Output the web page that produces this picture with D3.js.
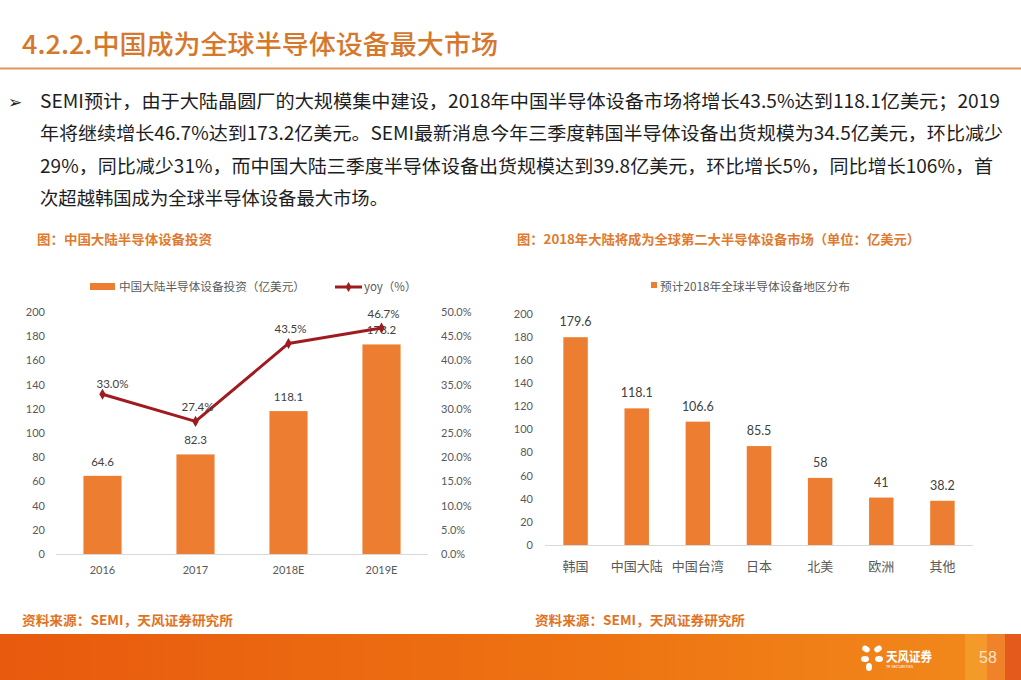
<!DOCTYPE html>
<html><head><meta charset="utf-8">
<script src="https://cdn.jsdelivr.net/npm/d3@7"></script>
<style>
html,body{margin:0;padding:0;background:#fff;}
svg{display:block;}
</style></head>
<body>
<script>
// ---------- data ----------
const pageTitle = "4.2.2.中国成为全球半导体设备最大市场";
const bodyLines = [
  "SEMI预计，由于大陆晶圆厂的大规模集中建设，2018年中国半导体设备市场将增长43.5%达到118.1亿美元；2019",
  "年将继续增长46.7%达到173.2亿美元。SEMI最新消息今年三季度韩国半导体设备出货规模为34.5亿美元，环比减少",
  "29%，同比减少31%，而中国大陆三季度半导体设备出货规模达到39.8亿美元，环比增长5%，同比增长106%，首",
  "次超越韩国成为全球半导体设备最大市场。"
];
const leftTitle = "图：中国大陆半导体设备投资";
const rightTitle = "图：2018年大陆将成为全球第二大半导体设备市场（单位：亿美元）";
const sourceText = "资料来源：SEMI，天风证券研究所";

const years = ["2016", "2017", "2018E", "2019E"];
const investment = [64.6, 82.3, 118.1, 173.2];
const yoy = [33.0, 27.4, 43.5, 46.7];
const leftTicks = [0, 20, 40, 60, 80, 100, 120, 140, 160, 180, 200];
const yoyTicks = [0, 5, 10, 15, 20, 25, 30, 35, 40, 45, 50];
const leftLegend = ["中国大陆半导体设备投资（亿美元）", "yoy（%）"];

const regions = ["韩国", "中国大陆", "中国台湾", "日本", "北美", "欧洲", "其他"];
const regionValues = [179.6, 118.1, 106.6, 85.5, 58, 41, 38.2];
const rightTicks = [0, 20, 40, 60, 80, 100, 120, 140, 160, 180, 200];
const rightLegend = "预计2018年全球半导体设备地区分布";

// ---------- styles ----------
const ORANGE = "#ED7D31";
const DARKRED = "#A01B20";
const AXISTXT = "#595959";
const CJK = "'Noto Sans CJK SC','Noto Sans',sans-serif";
const NUM = "Lato,'Open Sans',sans-serif";

const W = 1021, H = 680;
const svg = d3.select("body").append("svg").attr("width", W).attr("height", H);

// ---------- header ----------
svg.append("text").attr("x", 22).attr("y", 54)
  .attr("font-family", CJK).attr("font-weight", 500).attr("font-size", 26).attr("fill", "#D5782C")
  .attr("textLength", 476).attr("lengthAdjust", "spacingAndGlyphs")
  .text(pageTitle);
svg.append("line").attr("x1", 0).attr("x2", W).attr("y1", 68.5).attr("y2", 68.5)
  .attr("stroke", "#DE9658").attr("stroke-width", 2);

svg.append("text").attr("x", 8).attr("y", 108)
  .attr("font-family", "'DejaVu Sans',sans-serif").attr("font-size", 17).attr("fill", "#222")
  .text("➢");
const lineYs = [108, 140, 173, 205];
const lineLens = [960, 963, 953, 348];
bodyLines.forEach((t, i) => {
  svg.append("text").attr("x", 40).attr("y", lineYs[i])
    .attr("font-family", CJK).attr("font-size", 18.5).attr("fill", "#1E1E1E")
    .attr("textLength", lineLens[i]).attr("lengthAdjust", "spacingAndGlyphs")
    .text(t);
});

// chart titles
svg.append("text").attr("x", 37).attr("y", 244)
  .attr("font-family", CJK).attr("font-weight", "bold").attr("font-size", 13).attr("fill", "#E07A2E")
  .attr("textLength", 175).attr("lengthAdjust", "spacingAndGlyphs").text(leftTitle);
svg.append("text").attr("x", 517).attr("y", 244)
  .attr("font-family", CJK).attr("font-weight", "bold").attr("font-size", 13).attr("fill", "#E07A2E")
  .attr("textLength", 403).attr("lengthAdjust", "spacingAndGlyphs").text(rightTitle);

// ---------- left chart ----------
const lx = d3.scaleBand().domain(years).range([56, 428]).paddingInner(0.59).paddingOuter(0.295);
const ly = d3.scaleLinear().domain([0, 200]).range([554, 312]);
const ly2 = d3.scaleLinear().domain([0, 50]).range([554, 312]);

const L = svg.append("g");
// legend
L.append("rect").attr("x", 90).attr("y", 283).attr("width", 25).attr("height", 7).attr("fill", ORANGE);
L.append("text").attr("x", 119).attr("y", 291).attr("font-family", CJK).attr("font-size", 11.5)
  .attr("fill", AXISTXT).attr("textLength", 186).attr("lengthAdjust", "spacingAndGlyphs").text(leftLegend[0]);
L.append("line").attr("x1", 335).attr("x2", 362).attr("y1", 287).attr("y2", 287)
  .attr("stroke", DARKRED).attr("stroke-width", 3);
L.append("path").attr("d", d3.symbol(d3.symbolDiamond, 30)()).attr("transform", "translate(348.5,287)").attr("fill", DARKRED);
L.append("text").attr("x", 364).attr("y", 291).attr("font-family", CJK).attr("font-size", 11.5)
  .attr("fill", AXISTXT).text(leftLegend[1]);

// axes
const lAxisL = L.append("g").attr("transform", "translate(52,0)")
  .call(d3.axisLeft(ly).tickValues(leftTicks).tickSize(0).tickPadding(7).tickFormat(d3.format("d")));
const lAxisR = L.append("g").attr("transform", "translate(434,0)")
  .call(d3.axisRight(ly2).tickValues(yoyTicks).tickSize(0).tickPadding(7).tickFormat(d => d.toFixed(1) + "%"));
[lAxisL, lAxisR].forEach(g => {
  g.select(".domain").remove();
  g.selectAll("text").attr("font-family", NUM).attr("font-size", 11).attr("fill", AXISTXT);
});
// baseline
L.append("line").attr("x1", 56).attr("x2", 428).attr("y1", ly(0) + 0.5).attr("y2", ly(0) + 0.5)
  .attr("stroke", "#D9D9D9").attr("stroke-width", 1);
const lAxisB = L.append("g").attr("transform", `translate(0,${ly(0)})`)
  .call(d3.axisBottom(lx).tickSize(0).tickPadding(12));
lAxisB.select(".domain").remove();
lAxisB.selectAll("text").attr("font-family", NUM).attr("font-size", 11).attr("fill", AXISTXT);

// bars
L.selectAll("rect.bar").data(investment).join("rect").attr("class", "bar")
  .attr("x", (d, i) => lx(years[i])).attr("width", lx.bandwidth())
  .attr("y", d => ly(d)).attr("height", d => ly(0) - ly(d)).attr("fill", ORANGE);
L.selectAll("text.bv").data(investment).join("text").attr("class", "bv")
  .attr("x", (d, i) => lx(years[i]) + lx.bandwidth() / 2).attr("y", d => ly(d) - 10)
  .attr("text-anchor", "middle").attr("font-family", NUM).attr("font-size", 11.5).attr("fill", "#404040")
  .text(d => d.toFixed(1));

// line
const cx = i => lx(years[i]) + lx.bandwidth() / 2;
L.append("path").datum(yoy)
  .attr("d", d3.line().x((d, i) => cx(i)).y(d => ly2(d)))
  .attr("fill", "none").attr("stroke", DARKRED).attr("stroke-width", 3).attr("stroke-linejoin", "round");
L.selectAll("path.mk").data(yoy).join("path").attr("class", "mk")
  .attr("d", d3.symbol(d3.symbolDiamond, 36)())
  .attr("transform", (d, i) => `translate(${cx(i)},${ly2(d)})`).attr("fill", DARKRED);
L.selectAll("text.lv").data(yoy).join("text").attr("class", "lv")
  .attr("x", (d, i) => cx(i) + (i === 0 ? 10 : 2)).attr("y", (d, i) => ly2(d) - (i === 0 ? 6 : 10))
  .attr("text-anchor", "middle").attr("font-family", NUM).attr("font-size", 11.5).attr("fill", "#404040")
  .text(d => d.toFixed(1) + "%");

// ---------- right chart ----------
const rx = d3.scaleBand().domain(regions).range([545, 973]).paddingInner(0.6).paddingOuter(0.3);
const ry = d3.scaleLinear().domain([0, 200]).range([545, 313.6]);
const R = svg.append("g");
R.append("rect").attr("x", 651).attr("y", 282).attr("width", 6).attr("height", 6).attr("fill", ORANGE);
R.append("text").attr("x", 660).attr("y", 291).attr("font-family", CJK).attr("font-size", 11.5)
  .attr("fill", AXISTXT).attr("textLength", 190).attr("lengthAdjust", "spacingAndGlyphs").text(rightLegend);

const rAxisL = R.append("g").attr("transform", "translate(540,0)")
  .call(d3.axisLeft(ry).tickValues(rightTicks).tickSize(0).tickPadding(7).tickFormat(d3.format("d")));
rAxisL.select(".domain").remove();
rAxisL.selectAll("text").attr("font-family", NUM).attr("font-size", 11).attr("fill", AXISTXT);
R.append("line").attr("x1", 545).attr("x2", 973).attr("y1", ry(0) + 0.5).attr("y2", ry(0) + 0.5)
  .attr("stroke", "#D9D9D9").attr("stroke-width", 1);
const rAxisB = R.append("g").attr("transform", `translate(0,${ry(0)})`)
  .call(d3.axisBottom(rx).tickSize(0).tickPadding(17));
rAxisB.select(".domain").remove();
rAxisB.selectAll("text").attr("font-family", CJK).attr("font-size", 13).attr("fill", AXISTXT);

R.selectAll("rect.bar").data(regionValues).join("rect").attr("class", "bar")
  .attr("x", (d, i) => rx(regions[i])).attr("width", rx.bandwidth())
  .attr("y", d => ry(d)).attr("height", d => ry(0) - ry(d)).attr("fill", ORANGE);
R.selectAll("text.bv").data(regionValues).join("text").attr("class", "bv")
  .attr("x", (d, i) => rx(regions[i]) + rx.bandwidth() / 2).attr("y", d => ry(d) - 11)
  .attr("text-anchor", "middle").attr("font-family", NUM).attr("font-size", 12.5).attr("fill", "#404040")
  .text(d => String(d));

// ---------- sources ----------
[[22, 233], [535, 745]].forEach(([x0, x1]) => {
  svg.append("text").attr("x", x0).attr("y", 625)
    .attr("font-family", CJK).attr("font-weight", "bold").attr("font-size", 13).attr("fill", "#E0731F")
    .attr("textLength", x1 - x0).attr("lengthAdjust", "spacingAndGlyphs").text(sourceText);
});

// ---------- footer ----------
const defs = svg.append("defs");
const gr = defs.append("linearGradient").attr("id", "fg").attr("x1", 0).attr("x2", 1);
gr.append("stop").attr("offset", "0").attr("stop-color", "#E85A0E");
gr.append("stop").attr("offset", "0.6").attr("stop-color", "#EE7412");
gr.append("stop").attr("offset", "1").attr("stop-color", "#F28A1C");
svg.append("rect").attr("x", 0).attr("y", 634).attr("width", W).attr("height", 46).attr("fill", "url(#fg)");
svg.append("rect").attr("x", 965).attr("y", 634).attr("width", 22).attr("height", 46).attr("fill", "#F49A2A");
svg.append("rect").attr("x", 987).attr("y", 634).attr("width", 18).attr("height", 46).attr("fill", "#F0832A");
svg.append("rect").attr("x", 1005).attr("y", 634).attr("width", 16).attr("height", 46).attr("fill", "#E45A1C");
// logo
const lg = svg.append("g").attr("transform", "translate(872,657)").attr("fill", "#fff");
lg.append("ellipse").attr("cx", -6).attr("cy", -8).attr("rx", 4).attr("ry", 3).attr("transform", "rotate(30,-6,-8)");
lg.append("ellipse").attr("cx", 6).attr("cy", -8).attr("rx", 4).attr("ry", 3).attr("transform", "rotate(-30,6,-8)");
lg.append("ellipse").attr("cx", -7).attr("cy", 2).attr("rx", 4).attr("ry", 3);
lg.append("ellipse").attr("cx", 7).attr("cy", 2).attr("rx", 4).attr("ry", 3);
lg.append("ellipse").attr("cx", -3).attr("cy", 10).attr("rx", 3).attr("ry", 4);
svg.append("text").attr("x", 886).attr("y", 661).attr("font-family", CJK).attr("font-weight", "bold")
  .attr("font-size", 13).attr("fill", "#fff").attr("textLength", 46).attr("lengthAdjust", "spacingAndGlyphs").text("天风证券");
svg.append("text").attr("x", 886).attr("y", 668).attr("font-family", NUM)
  .attr("font-size", 4).attr("fill", "#fff").text("TF SECURITIES");
svg.append("text").attr("x", 979).attr("y", 663).attr("font-family", "'Liberation Sans',Arial,sans-serif")
  .attr("font-size", 16).attr("fill", "#FCE3C6").text("58");
</script>
</body></html>
